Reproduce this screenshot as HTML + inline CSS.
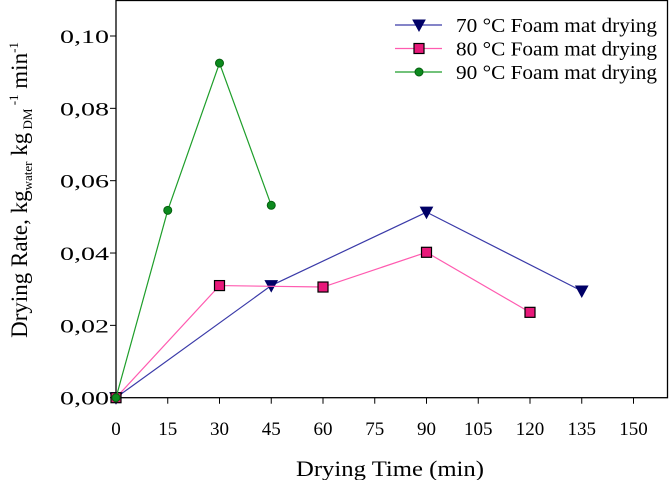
<!DOCTYPE html>
<html><head><meta charset="utf-8"><style>
body{margin:0;background:#fff}
text{font-family:"Liberation Serif",serif;fill:#000}
</style></head><body>
<svg width="669" height="480" viewBox="0 0 669 480" xmlns="http://www.w3.org/2000/svg">
<g id="axes"></g>
<g id="series"></g>
<g id="legend"></g>
<text x="296" y="476" font-size="22" textLength="188" lengthAdjust="spacingAndGlyphs">Drying Time (min)</text>
<text transform="translate(27,190) rotate(-90)" font-size="23" text-anchor="middle">Drying Rate, kg<tspan font-size="13" dy="5">water</tspan><tspan dy="-5"> kg</tspan><tspan font-size="13" dy="5"> DM</tspan><tspan font-size="13" dy="-14"> -1</tspan><tspan dy="9"> min</tspan><tspan font-size="13" dy="-9">-1</tspan></text>
</svg>
<script>
const xTicks=[0,15,30,45,60,75,90,105,120,135,150];
const yTicks=[0,0.02,0.04,0.06,0.08,0.10];
const yTickLabels=["0,00","0,02","0,04","0,06","0,08","0,10"];
const seriesNames=["70 °C Foam mat drying","80 °C Foam mat drying","90 °C Foam mat drying"];
const x70=[0,45,90,135];
const y70=[0,0.031,0.0513,0.0295];
const x80=[0,30,60,90,120];
const y80=[0,0.031,0.0306,0.0402,0.0236];
const x90=[0,15,30,45];
const y90=[0,0.0518,0.0925,0.0532];
const L=116,R=667.5,T=0.5,B=397.7;
const sx=v=>L+v*(633.5-L)/150;
const sy=v=>B-v*(B-36)/0.10;
const NS="http://www.w3.org/2000/svg";
function mk(tag,attrs,parent){const e=document.createElementNS(NS,tag);for(const k in attrs)e.setAttribute(k,attrs[k]);parent.appendChild(e);return e;}
const axes=document.getElementById('axes');
const frame=mk('rect',{x:L,y:T,width:R-L,height:B-T,fill:'none',stroke:'#000','stroke-width':1.3},axes);


xTicks.forEach(v=>{
 const t=mk('line',{x1:sx(v),x2:sx(v),y1:B,y2:B+6,stroke:'#000'},axes);
 
 
 const l=mk('text',{x:sx(v),y:435,'font-size':19,'text-anchor':'middle'},axes);l.textContent=v;
 
 
});
yTicks.forEach((v,i)=>{
 const t=mk('line',{x1:L-6,x2:L,y1:sy(v),y2:sy(v),stroke:'#000'},axes);
 
 
 const l=mk('text',{x:60,y:sy(v)+7,'font-size':19,textLength:49,lengthAdjust:'spacingAndGlyphs'},axes);l.textContent=yTickLabels[i];
 
 
});
const ser=document.getElementById('series');
function marker(kind,x,y,color,g){
 let m;
 if(kind==='tri')m=mk('polygon',{points:`${x-6},${y-5} ${x+6},${y-5} ${x},${y+6}`,fill:'#000066',stroke:'#000066'},g);
 else if(kind==='sq')m=mk('rect',{x:x-5,y:y-5,width:10,height:10,fill:'#e8197a',stroke:'#000','stroke-width':1.2},g);
 else m=mk('circle',{cx:x,cy:y,r:4,fill:'#0c8a1e',stroke:'#05600f'},g);
 
 
}
const specs=[[x70,y70,'#3a3aa8','tri','series-70c'],[x80,y80,'#ff5bb0','sq','series-80c'],[x90,y90,'#1e9e2a','dot','series-90c']];
specs.forEach(([xs,ys,c,k,n],si)=>{
 const g=mk('g',{},ser);
 
 
 const pl=mk('polyline',{points:xs.map((x,i)=>sx(x)+','+sy(ys[i])).join(' '),fill:'none',stroke:c,'stroke-width':1.2},g);
 
 
 xs.forEach((x,i)=>marker(k,sx(x),sy(ys[i]),c,g));
 const lg=document.getElementById('legend');
 const ly=25+si*23.5;
 const e=mk('g',{},lg);
 
 
 mk('line',{x1:395,x2:442,y1:ly,y2:ly,stroke:c,'stroke-width':1.2},e);
 marker(k,419,ly,c,e);
 const t=mk('text',{x:456,y:ly+7,'font-size':20,textLength:201,lengthAdjust:'spacingAndGlyphs'},e);t.textContent=seriesNames[si];
});
</script>
</body></html>
